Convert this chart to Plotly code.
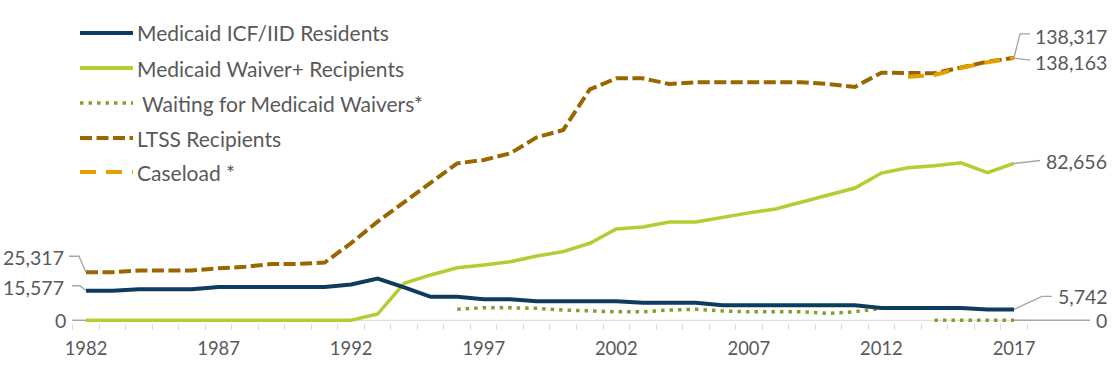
import plotly.graph_objects as go

# ---------------- data ----------------
years = list(range(1982, 2018))

icf_residents = [15577, 15577, 16400, 16400, 16400, 17500, 17500, 17500, 17500, 17500,
                 18900, 22000, 17300, 12400, 12400, 11100, 11100, 10100, 10100, 10100,
                 10100, 9200, 9200, 9200, 7900, 7900, 7900, 7900, 7900, 7900,
                 6500, 6500, 6500, 6500, 5750, 5742]

waiver_recipients = [0, 0, 0, 0, 0, 0, 0, 0, 0, 0,
                     0, 3300, 19500, 23900, 27700, 29100, 30900, 33900, 36200, 40600,
                     48100, 49200, 51800, 51800, 54400, 56600, 58700, 62400, 66000, 69700,
                     77600, 80400, 81500, 83000, 77800, 82656]

waiting_list = [None] * 14 + [5800, 6600, 6600, 6300, 5400, 4900, 4500, 4500, 5400, 5800,
                              4900, 4500, 4500, 4500, 3700, 4500, 6300, None, 0, 0, 0, 0]

ltss_recipients = [25317, 25317, 26300, 26300, 26300, 27400, 28200, 29700, 29700, 30400,
                   40700, 52000, 62300, 72900, 82700, 84500, 88000, 96400, 100300, 121700,
                   127500, 127500, 124500, 125400, 125400, 125400, 125400, 125400, 124500, 123000,
                   130500, 130200, 130200, 133200, 136300, 138317]

caseload = [None] * 31 + [128400, 129300, 133000, 136000, 138163]

tick_years = [1982, 1987, 1992, 1997, 2002, 2007, 2012, 2017]

legend_names = ["Medicaid ICF/IID Residents", "Medicaid Waiver+ Recipients",
                "Waiting for Medicaid Waivers*", "LTSS Recipients", "Caseload *"]

# ---------------- style ----------------
C_ICF = "#0f3b5c"
C_WAIVER = "#b5cd32"
C_WAIT = "#85a02a"
C_LTSS = "#996600"
C_CASE = "#e3a000"
C_TEXT = "#595959"
C_LEADER = "#a6a6a6"
C_AXIS = "#d9d9d9"
FONT = "Lato"
FS_LEG = 21
FS_LAB = 19.5
FS_TICK = 18.4

W, H = 1112, 365
B = 42                       # bottom margin
PLOT_H = H - B
X0_PX, YR_PX = 86.0, 26.514  # pixel of first year, pixels per year
Y0_PX, UNIT = 320.3, 527.0   # pixel of zero, units per pixel

x_lo = 1982 - X0_PX / YR_PX
x_hi = 1982 + (W - X0_PX) / YR_PX
y_lo = -(PLOT_H - Y0_PX) * UNIT
y_hi = Y0_PX * UNIT


def dx(px):
    return px / YR_PX


def dy(px):
    return -px * UNIT  # positive px means downward


fig = go.Figure()

series = [
    (ltss_recipients, C_LTSS, 4, "12px,4.5px"),
    (caseload, C_CASE, 4, "16px,10px"),
    (waiting_list, C_WAIT, 3.5, "3.5px,5px"),
    (waiver_recipients, C_WAIVER, 3.5, "solid"),
    (icf_residents, C_ICF, 4, "solid"),
]
for vals, col, wid, dash in series:
    fig.add_trace(go.Scatter(x=years, y=vals, mode="lines",
                             line=dict(color=col, width=wid, dash=dash),
                             showlegend=False, hoverinfo="skip"))


def leader(xs, ys):
    fig.add_trace(go.Scatter(x=xs, y=ys, mode="lines",
                             line=dict(color=C_LEADER, width=1.4),
                             showlegend=False, hoverinfo="skip"))


def label(x, y, text, anchor):
    fig.add_annotation(x=x, y=y, xref="x", yref="y", text=text, showarrow=False,
                       xanchor=anchor, yanchor="middle",
                       font=dict(family=FONT, size=FS_LAB, color=C_TEXT))


first, last = years[0], years[-1]
# left side
v = ltss_recipients[0]
leader([first, first - dx(7), first - dx(17)], [v, v - dy(16), v - dy(16)])
label(first - dx(20), v - dy(15), f"{v:,}", "right")
v = icf_residents[0]
leader([first, first - dx(6), first - dx(14)], [v, v - dy(5), v - dy(5)])
label(first - dx(20), v - dy(3), f"{v:,}", "right")
v = waiver_recipients[0]
leader([first, first - dx(14)], [v, v])
label(first - dx(18), v, f"{v:,}", "right")

# right side
v = ltss_recipients[-1]
leader([last, last + dx(6), last + dx(16)], [v, v - dy(24), v - dy(24)])
label(last + dx(19), v - dy(21), f"{v:,}", "left")
v = caseload[-1]
leader([last, last + dx(16)], [v, v + dy(2)])
label(last + dx(19), v + dy(4), f"{v:,}", "left")
v = waiver_recipients[-1]
leader([last, last + dx(26)], [v, v - dy(3)])
label(last + dx(30), v - dy(2), f"{v:,}", "left")
v = icf_residents[-1]
leader([last, last + dx(28), last + dx(38)], [v, v - dy(13), v - dy(13)])
label(last + dx(42), v - dy(13), f"{v:,}", "left")
v = waiting_list[-1]
leader([last, last + dx(76)], [v, v])
label(last + dx(80), v, f"{v:,}", "left")

# axis baseline
fig.add_shape(type="line", xref="x", yref="y", x0=first - 0.5, x1=last + 0.5, y0=0, y1=0,
              line=dict(color=C_AXIS, width=1), layer="below")

# manual legend (paper coords relative to plot area)
legend_styles = [(C_ICF, 4, "solid"), (C_WAIVER, 4, "solid"), (C_WAIT, 3.5, "3.5px,5px"),
                 (C_LTSS, 4, "12px,4.5px"), (C_CASE, 4, "16px,10px")]
leg_y = [33, 68, 103, 138, 172]
text_x = [135, 135, 140, 135, 135]
for name, (col, wid, dash), py, tx in zip(legend_names, legend_styles, leg_y, text_x):
    yy = 1 - py / PLOT_H
    fig.add_shape(type="line", xref="paper", yref="paper", x0=80 / W, x1=133 / W,
                  y0=yy, y1=yy, line=dict(color=col, width=wid, dash=dash))
    fig.add_annotation(x=tx / W, y=yy, xref="paper", yref="paper", text=name,
                       showarrow=False, xanchor="left", yanchor="middle",
                       font=dict(family=FONT, size=FS_LEG, color=C_TEXT))

fig.update_layout(
    width=W, height=H,
    margin=dict(l=0, r=0, t=0, b=B),
    paper_bgcolor="white", plot_bgcolor="white",
    xaxis=dict(range=[x_lo, x_hi], showgrid=False, zeroline=False, showline=False,
               tickmode="array", tickvals=tick_years, ticktext=[str(t) for t in tick_years],
               ticks="", ticklabelstandoff=13,
               tickfont=dict(family=FONT, size=FS_TICK, color=C_TEXT),
               minor=dict(tickmode="array", tickvals=[y - 0.5 for y in years] + [last + 0.5],
                          ticks="outside", ticklen=6, tickcolor=C_AXIS, tickwidth=1,
                          showgrid=False)),
    yaxis=dict(range=[y_lo, y_hi], visible=False),
)

fig.write_html("out.html", config={"displayModeBar": False},
               post_script="document.body.style.margin='0';document.body.style.overflow='hidden';")
